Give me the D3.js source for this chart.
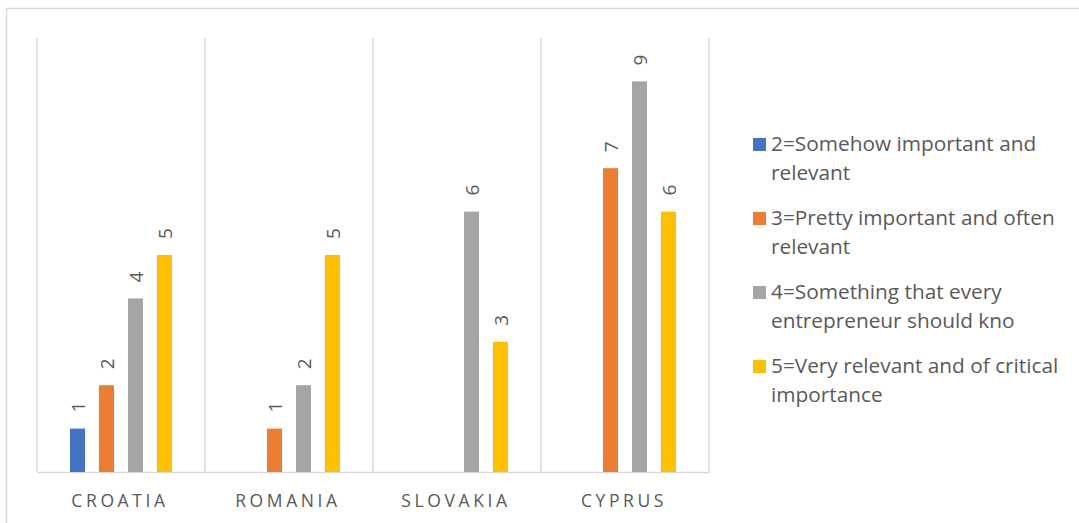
<!DOCTYPE html>
<html>
<head>
<meta charset="utf-8">
<script src="https://cdn.jsdelivr.net/npm/d3@7"></script>
<style>
  html, body { margin: 0; padding: 0; background: #fff; }
  svg { display: block; font-family: "Open Sans", sans-serif; }
</style>
</head>
<body>
<svg id="chart" width="1079" height="523"></svg>
<script>
// Countries along the x axis
const countries = ["Croatia", "Romania", "Slovakia", "Cyprus"];

// Rating levels (one bar series each) and their legend text, wrapped as shown
const seriesNames = [
  "2=Somehow important and relevant",
  "3=Pretty important and often relevant",
  "4=Something that every entrepreneur should kno",
  "5=Very relevant and of critical importance"
];
const legendLines = [
  ["2=Somehow important and", "relevant"],
  ["3=Pretty important and often", "relevant"],
  ["4=Something that every", "entrepreneur should kno"],
  ["5=Very relevant and of critical", "importance"]
];
const seriesColors = ["#4472C4", "#ED7D31", "#A5A5A5", "#FFC000"];

// Counts per country, one array per rating level (null = no responses)
const somehowImportant = [1, null, null, null];
const prettyImportant  = [2, 1, null, 7];
const everyEntrepreneur = [4, 2, 6, 9];
const veryRelevant     = [5, 5, 3, 6];
const seriesValues = [somehowImportant, prettyImportant, everyEntrepreneur, veryRelevant];

const svg = d3.select("#chart");
const textColor = "#595959";
const lineColor = "#D9D9D9";

// Outer chart frame
svg.append("rect")
  .attr("x", 6.5).attr("y", 8.5)
  .attr("width", 1100).attr("height", 600)
  .attr("fill", "none").attr("stroke", lineColor).attr("stroke-width", 1.5);

const plot = { left: 37, right: 709, top: 38, bottom: 472 };

const x0 = d3.scaleBand().domain(countries).range([plot.left, plot.right]).padding(0);
const y = d3.scaleLinear().domain([0, 10]).range([plot.bottom, plot.top]);
const groupWidth = 116;
const x1 = d3.scaleBand().domain(seriesNames)
  .range([x0.bandwidth() / 2 - groupWidth / 2, x0.bandwidth() / 2 + groupWidth / 2])
  .paddingInner(0.483).paddingOuter(0.2415);

// Category separators (vertical gridlines)
const sepPositions = countries.map(c => x0(c)).concat([plot.right]);
svg.append("g").selectAll("line").data(sepPositions).join("line")
  .attr("x1", d => d).attr("x2", d => d)
  .attr("y1", plot.top).attr("y2", plot.bottom)
  .attr("stroke", lineColor).attr("stroke-width", 1.5);

// Horizontal category axis
const xAxis = svg.append("g")
  .attr("transform", `translate(0,${plot.bottom})`)
  .call(d3.axisBottom(x0).tickSize(0).tickFormat(d => d.toUpperCase()));
xAxis.select(".domain").attr("stroke", lineColor).attr("stroke-width", 1.5);
xAxis.selectAll("text")
  .attr("fill", textColor)
  .attr("dy", 0).attr("y", 35)
  .attr("dx", -1)
  .style("font-family", "'Open Sans', sans-serif")
  .style("font-size", "17.5px")
  .style("letter-spacing", "3.6px");

// Bars and rotated value labels
const cells = [];
seriesNames.forEach((s, si) => {
  countries.forEach((c, ci) => {
    const v = seriesValues[si][ci];
    if (v != null) cells.push({ series: s, si, country: c, value: v });
  });
});

const bars = svg.append("g");
bars.selectAll("rect").data(cells).join("rect")
  .attr("x", d => x0(d.country) + x1(d.series))
  .attr("y", d => y(d.value))
  .attr("width", x1.bandwidth())
  .attr("height", d => y(0) - y(d.value))
  .attr("fill", d => seriesColors[d.si]);

bars.selectAll("text").data(cells).join("text")
  .attr("transform", d => {
    const cx = x0(d.country) + x1(d.series) + x1.bandwidth() / 2;
    return `translate(${cx + 7},${y(d.value) - 16}) rotate(-90)`;
  })
  .attr("text-anchor", "start")
  .attr("fill", textColor)
  .style("font-size", "19px")
  .text(d => d.value);

// Legend
const legend = svg.append("g").attr("transform", "translate(753,0)");
const entry = legend.selectAll("g").data(seriesNames).join("g")
  .attr("transform", (d, i) => `translate(0,${151 + i * 74})`);
entry.append("rect")
  .attr("x", 0).attr("y", -13).attr("width", 13).attr("height", 13)
  .attr("fill", (d, i) => seriesColors[i]);
entry.append("text")
  .attr("fill", textColor)
  .style("font-size", "20.8px")
  .selectAll("tspan").data((d, i) => legendLines[i]).join("tspan")
  .attr("x", 18)
  .attr("y", (d, j) => j * 29)
  .text(d => d);
</script>
</body>
</html>
